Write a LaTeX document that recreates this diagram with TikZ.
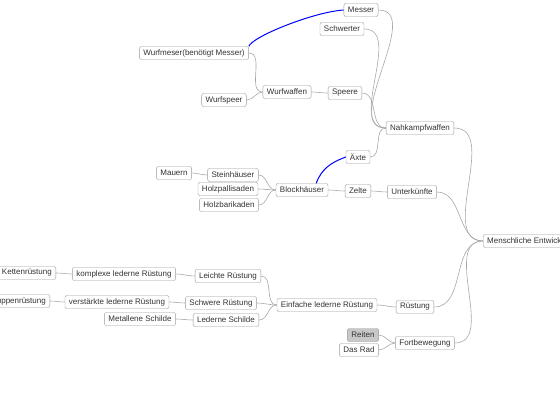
\documentclass[tikz,border=0pt]{standalone}
\usepackage{fontspec}
\setmainfont{Liberation Sans}
\usetikzlibrary{positioning}
\definecolor{boxline}{HTML}{9A9A9A}
\definecolor{boxtext}{HTML}{333333}
\definecolor{linkgray}{HTML}{A8A8A8}
\definecolor{selfill}{HTML}{C8C8C8}

\begin{document}
\begin{tikzpicture}[
    x=1pt, y=-1pt,
    box/.style={rectangle, draw=boxline, fill=white, rounded corners=2pt, minimum height=13pt, inner xsep=4pt, inner ysep=1pt, text=boxtext, font=\fontsize{8}{9.5}\selectfont},
    link/.style={draw=linkgray, line width=0.6pt},
    dep/.style={draw=blue, line width=1pt}
]
\useasboundingbox (0,0) rectangle (560,420);
\clip (0,0) rectangle (560,420);
% root
\node[box, anchor=west] (root) at (483,241) {Menschliche Entwicklung};
% Nahkampfwaffen
\node[box] (nahk) at (420,128) {Nahkampfwaffen};
\node[box] (messer) at (361,10) {Messer};
\node[box] (schwert) at (342,29) {Schwerter};
\node[box] (speere) at (345,93) {Speere};
\node[box] (aexte) at (358,157) {Äxte};
\node[box] (wurfw) at (287,92) {Wurfwaffen};
\node[box] (wurfm) at (194,53) {Wurfmeser(benötigt Messer)};
\node[box] (wurfsp) at (224,100) {Wurfspeer};
% Unterkuenfte
\node[box] (unterk) at (412,192) {Unterkünfte};
\node[box] (zelte) at (358,191) {Zelte};
\node[box] (block) at (302,190) {Blockhäuser};
\node[box] (stein) at (233,175) {Steinhäuser};
\node[box] (pallis) at (228,189) {Holzpallisaden};
\node[box] (barik) at (229,205) {Holzbarikaden};
\node[box] (mauern) at (174,173) {Mauern};
% Ruestung
\node[box] (ruest) at (415,307) {Rüstung};
\node[box] (einf) at (327,305) {Einfache lederne Rüstung};
\node[box] (leicht) at (228,276) {Leichte Rüstung};
\node[box] (schwer) at (221,303) {Schwere Rüstung};
\node[box] (ledsch) at (226,320) {Lederne Schilde};
\node[box] (komplex) at (124,274) {komplexe lederne Rüstung};
\node[box] (verst) at (117,302) {verstärkte lederne Rüstung};
\node[box] (metsch) at (140,319) {Metallene Schilde};
\node[box, anchor=east] (kette) at (56,273) {Kettenrüstung};
\node[box, anchor=east] (schupp) at (50,301) {Schuppenrüstung};
% Fortbewegung
\node[box] (fort) at (425,343) {Fortbewegung};
\node[box, fill=selfill] (reiten) at (363,335) {Reiten};
\node[box] (rad) at (359,350) {Das Rad};
% gray links
\draw[link] (nahk.east) to[out=0, in=180] (root.west);
\draw[link] (unterk.east) to[out=0, in=180] (root.west);
\draw[link] (ruest.east) to[out=0, in=180] (root.west);
\draw[link] (fort.east) to[out=0, in=180] (root.west);
\draw[link] (messer.east) to[out=0, in=180] (nahk.west);
\draw[link] (schwert.east) to[out=0, in=180] (nahk.west);
\draw[link] (speere.east) to[out=0, in=180] (nahk.west);
\draw[link] (aexte.east) to[out=0, in=180] (nahk.west);
\draw[link] (wurfw.east) to[out=0, in=180] (speere.west);
\draw[link] (wurfm.east) to[out=0, in=180] (wurfw.west);
\draw[link] (wurfsp.east) to[out=0, in=180] (wurfw.west);
\draw[link] (zelte.east) to[out=0, in=180] (unterk.west);
\draw[link] (block.east) to[out=0, in=180] (zelte.west);
\draw[link] (stein.east) to[out=0, in=180] (block.west);
\draw[link] (pallis.east) to[out=0, in=180] (block.west);
\draw[link] (barik.east) to[out=0, in=180] (block.west);
\draw[link] (mauern.east) to[out=0, in=180] (stein.west);
\draw[link] (einf.east) to[out=0, in=180] (ruest.west);
\draw[link] (leicht.east) to[out=0, in=180] (einf.west);
\draw[link] (schwer.east) to[out=0, in=180] (einf.west);
\draw[link] (ledsch.east) to[out=0, in=180] (einf.west);
\draw[link] (komplex.east) to[out=0, in=180] (leicht.west);
\draw[link] (verst.east) to[out=0, in=180] (schwer.west);
\draw[link] (metsch.east) to[out=0, in=180] (ledsch.west);
\draw[link] (kette.east) to[out=0, in=180] (komplex.west);
\draw[link] (schupp.east) to[out=0, in=180] (verst.west);
\draw[link] (reiten.east) to[out=0, in=180] (fort.west);
\draw[link] (rad.east) to[out=0, in=180] (fort.west);
% blue dependencies
\coordinate (bt) at ([xshift=-12pt]block.north east);
\draw[dep] (wurfm.north east) .. controls +(4,-10) and +(-30,2) .. (messer.west);
\draw[dep] (bt) to[out=70, in=200] (aexte.west);
\end{tikzpicture}
\end{document}
